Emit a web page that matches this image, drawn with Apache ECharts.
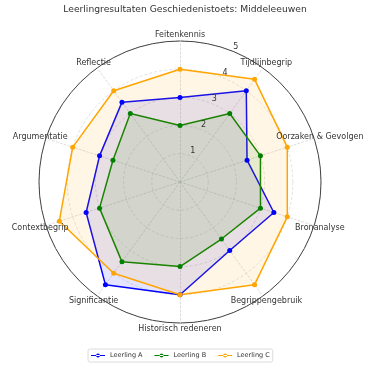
<!DOCTYPE html>
<html>
<head>
<meta charset="utf-8">
<script src="https://cdn.jsdelivr.net/npm/echarts@6/dist/echarts.min.js"></script>
<style>html,body{margin:0;padding:0;background:#fff}#c{width:375px;height:365px}</style>
</head>
<body>
<div id="c"></div>
<script>
// Categories in clockwise order starting at top
var categories = ['Feitenkennis','Tijdlijnbegrip','Oorzaken & Gevolgen','Bronanalyse','Begrippengebruik','Historisch redeneren','Significantie','Contextbegrip','Argumentatie','Reflectie'];
var leerlingA = [3, 4, 2.5, 3.5, 3, 4, 4.5, 3.5, 3, 3.5];
var leerlingB = [2, 3, 3, 3, 2.5, 3, 3.5, 3, 2.5, 3];
var leerlingC = [4, 4.5, 4, 4, 4.5, 4, 4, 4.5, 4, 4];
var seriesNames = ['Leerling A','Leerling B','Leerling C'];
var tickLabels = [1, 2, 3, 4, 5];
var maxValue = 5;

var colors = ['#0000ff','#008000','#ffa500'];
var CX = 180, CY = 182, R = 141;
var FONT = 'DejaVu Sans';

// ECharts radar goes counter-clockwise: reorder to get clockwise layout
function toCCW(arr){ return [arr[0]].concat(arr.slice(1).reverse()); }
var indicators = toCCW(categories).map(function(n){ return {name:n, min:0, max:maxValue}; });

var graphics = [];
categories.forEach(function(name, i){
  var a = (90 - i*360/categories.length) * Math.PI/180;
  var rr = R + 6;
  graphics.push({type:'text', x: CX + rr*Math.cos(a), y: CY - rr*Math.sin(a),
    style:{text:name, fontFamily:FONT, fontSize:8, fill:'#333', align:'center', verticalAlign:'middle'}, z:10});
});
tickLabels.forEach(function(v){
  var a = 67.5*Math.PI/180;
  var rr = v*R/maxValue + 5;
  graphics.push({type:'text', x: CX + rr*Math.cos(a), y: CY - rr*Math.sin(a),
    style:{text:String(v), fontFamily:FONT, fontSize:8, fill:'#333', align:'center', verticalAlign:'middle'}, z:10});
});

var dataSets = [leerlingA, leerlingB, leerlingC];
var chart = echarts.init(document.getElementById('c'));
chart.setOption({
  animation:false,
  title:{text:'Leerlingresultaten Geschiedenistoets: Middeleeuwen', left:CX, textAlign:'center', top:0,
    textStyle:{fontFamily:FONT, fontSize:9.2, fontWeight:'normal', color:'#333'}},
  legend:{top:349, left:88, data:seriesNames, itemWidth:14, itemHeight:5, itemGap:12,
    icon:'path://M0,3.4h20v1.2h-20z M10,1.2a2.8,2.8 0 1,0 0.01,0z',
    textStyle:{fontFamily:FONT, fontSize:6.5, color:'#333'},
    borderColor:'#dcdcdc', borderWidth:1, borderRadius:2, padding:[3,3]},
  radar:[{
    center:[CX,CY], radius:R, startAngle:90, shape:'circle', splitNumber:5,
    indicator:indicators,
    axisName:{show:false},
    axisLine:{lineStyle:{color:'#d4d4d4', type:[2,2], width:0.8}},
    splitLine:{lineStyle:{color:'#dadada', type:[3,2], width:0.8}},
    splitArea:{show:false},
    axisTick:{show:false}, axisLabel:{show:false}
  },{
    center:[CX,CY], radius:R, startAngle:90, shape:'circle', splitNumber:1,
    indicator:indicators,
    axisName:{show:false},
    axisLine:{show:false},
    splitLine:{lineStyle:{color:'#444', width:1}},
    splitArea:{show:false},
    axisTick:{show:false}, axisLabel:{show:false}
  }],
  series:[{
    type:'radar', radarIndex:0, symbol:'circle', symbolSize:5,
    data: dataSets.map(function(d, k){
      return {name:seriesNames[k], value:toCCW(d),
        itemStyle:{color:colors[k]},
        lineStyle:{color:colors[k], width:1.5},
        areaStyle:{color:colors[k], opacity:0.1}};
    })
  }],
  graphic:graphics
});
</script>
</body>
</html>
